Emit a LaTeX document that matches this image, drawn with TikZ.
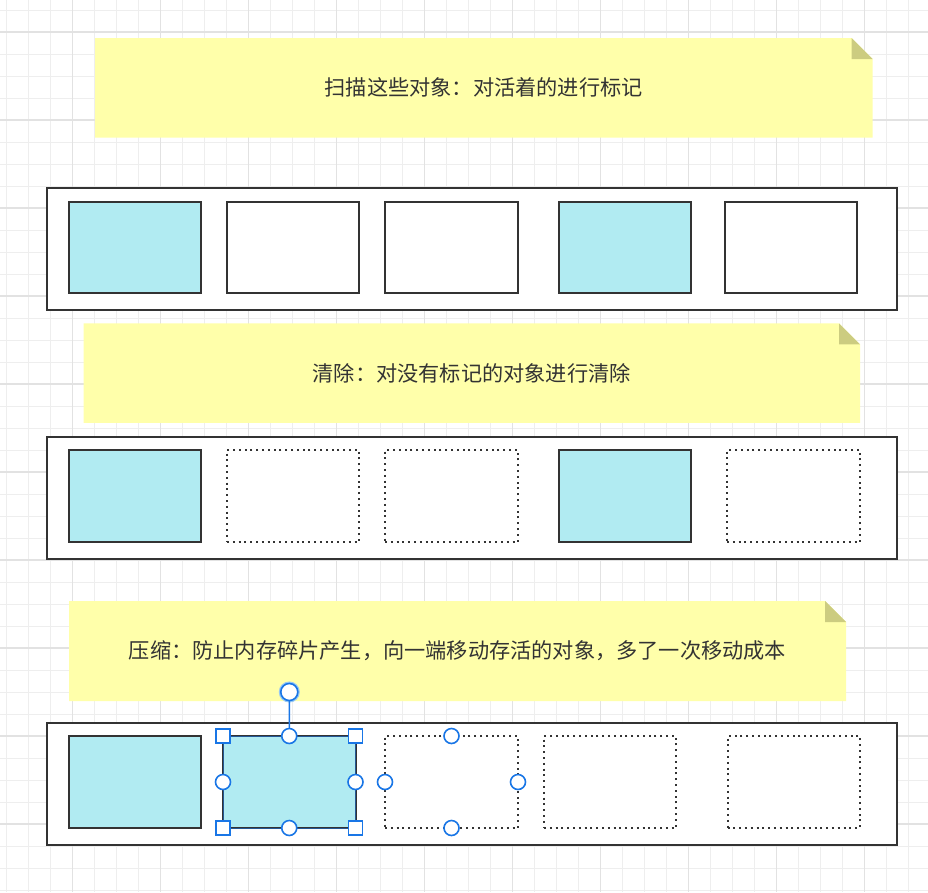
\documentclass[tikz,border=0pt]{standalone}
\usepackage{fontspec}
\newfontfamily\cjk{Noto Sans CJK SC}
\usetikzlibrary{backgrounds}
\pgfdeclarelayer{gridlayer}
\pgfsetlayers{gridlayer,background,main}
\definecolor{linec}{HTML}{333333}
\definecolor{cellblue}{RGB}{177,235,242}
\definecolor{notefill}{RGB}{255,255,170}
\definecolor{foldfill}{RGB}{204,204,128}
\definecolor{textc}{HTML}{333333}
\definecolor{selblue}{RGB}{25,118,230}
\definecolor{glowblue}{RGB}{150,200,245}
\definecolor{gridminor}{RGB}{238,238,238}
\definecolor{gridmajor}{RGB}{226,226,226}
\tikzset{
  container/.style={draw=linec, line width=2.2pt, fill=white, anchor=north west, inner sep=0pt, outer sep=0pt, minimum width=850pt, minimum height=122pt},
  cell/.style={draw=linec, line width=2pt, anchor=north west, inner sep=0pt, outer sep=0pt, minimum width=132pt},
  livecell/.style={cell, fill=cellblue},
  freecell/.style={cell, fill=white},
  gonecell/.style={cell, fill=white, line width=2pt, dash pattern=on 2pt off 3.8pt},
  notebox/.style={anchor=north west, inner sep=0pt, outer sep=0pt, text=textc, font=\cjk\fontsize{21.2}{25}\selectfont},
  sqhandle/.style={draw=selblue, fill=white, line width=1.6pt, minimum size=14pt, inner sep=0pt, outer sep=0pt},
  cirhandle/.style={circle, draw=selblue, fill=white, line width=1.6pt, minimum size=15pt, inner sep=0pt, outer sep=0pt},
  rothandle/.style={circle, draw=selblue, fill=white, line width=1.6pt, minimum size=17pt, inner sep=0pt, outer sep=0pt,
     preaction={draw=glowblue, line width=4pt}},
  selline/.style={draw=selblue, line width=1.5pt},
}
\newcommand{\notefillshape}[1]{%
  \fill[notefill] (#1.north west) -- ([xshift=-21pt]#1.north east) -- ([yshift=-21pt]#1.north east) -- (#1.south east) -- (#1.south west) -- cycle;
  \fill[foldfill] ([xshift=-21pt]#1.north east) -- ([xshift=-21pt,yshift=-21pt]#1.north east) -- ([yshift=-21pt]#1.north east) -- cycle;
}
\begin{document}
\begin{tikzpicture}[x=1pt,y=-1pt]
\useasboundingbox (0,0) rectangle (928,892);
\begin{pgfonlayer}{gridlayer}
  \fill[white] (0,0) rectangle (928,892);
  \foreach \i in {0,...,41} { \draw[gridminor, line width=1pt] ({6.7+22*\i},0) -- ({6.7+22*\i},892); }
  \foreach \j in {0,...,40} { \draw[gridminor, line width=1pt] (0,{10+22*\j}) -- (928,{10+22*\j}); }
  \foreach \i in {0,...,9} { \draw[gridmajor, line width=1.2pt] ({72.7+88*\i},0) -- ({72.7+88*\i},892); }
  \foreach \j in {0,...,9} { \draw[gridmajor, line width=1.2pt] (0,{32+88*\j}) -- (928,{32+88*\j}); }
\end{pgfonlayer}

% notes
\node[notebox, minimum width=777.5pt, minimum height=99.5pt] (note1) at (95,38) {扫描这些对象：对活着的进行标记};
\node[notebox, minimum width=776.5pt, minimum height=99.5pt] (note2) at (83.5,323.3) {清除：对没有标记的对象进行清除};
\node[notebox, minimum width=777pt, minimum height=100pt] (note3) at (69,601) {压缩：防止内存碎片产生，向一端移动存活的对象，多了一次移动成本};
\begin{pgfonlayer}{background}
  \notefillshape{note1}
  \notefillshape{note2}
  \notefillshape{note3}
\end{pgfonlayer}

% row 1: mark
\node[container] (c1) at (47,188) {};
\node[livecell, minimum height=91pt] (r1a) at (69,202) {};
\node[freecell, minimum height=91pt] (r1b) at (227,202) {};
\node[freecell, minimum height=91pt, minimum width=133pt] (r1c) at (385,202) {};
\node[livecell, minimum height=91pt] (r1d) at (559,202) {};
\node[freecell, minimum height=91pt] (r1e) at (725,202) {};

% row 2: sweep
\node[container] (c2) at (47,437) {};
\node[livecell, minimum height=92pt] (r2a) at (69,450) {};
\node[gonecell, minimum height=92pt] (r2b) at (227,450) {};
\node[gonecell, minimum height=92pt, minimum width=133pt] (r2c) at (385,450) {};
\node[livecell, minimum height=92pt] (r2d) at (559,450) {};
\node[gonecell, minimum height=92pt, minimum width=133pt] (r2e) at (727,450) {};

% row 3: compact
\node[container, minimum height=122pt] (c3) at (47,723) {};
\node[livecell, minimum height=92pt] (r3a) at (69,736) {};
\node[livecell, minimum height=92pt, minimum width=132.5pt] (sel) at (223,736) {};
\draw[selblue, line width=0.8pt, opacity=0.55] (sel.north west) rectangle (sel.south east);
\node[gonecell, minimum height=92pt, minimum width=133pt] (r3c) at (385,736) {};
\node[gonecell, minimum height=92pt] (r3d) at (544,736) {};
\node[gonecell, minimum height=92pt, minimum width=132.5pt] (r3e) at (727.5,736) {};

% selection handles
\node[rothandle] (rot) at (289.3,692) {};
\node[cirhandle] (sel-n) at (sel.north) {};
\draw[selline] (rot) -- (sel-n);
\node[sqhandle] (sel-nw) at (sel.north west) {};
\node[sqhandle] (sel-ne) at (sel.north east) {};
\node[sqhandle] (sel-sw) at (sel.south west) {};
\node[sqhandle] (sel-se) at (sel.south east) {};
\node[cirhandle] (sel-s) at (sel.south) {};
\node[cirhandle] (sel-w) at (sel.west) {};
\node[cirhandle] (sel-e) at (sel.east) {};

% connection points of the target cell
\node[cirhandle] (r3c-n) at (r3c.north) {};
\node[cirhandle] (r3c-s) at (r3c.south) {};
\node[cirhandle] (r3c-w) at (r3c.west) {};
\node[cirhandle] (r3c-e) at (r3c.east) {};
\end{tikzpicture}
\end{document}
